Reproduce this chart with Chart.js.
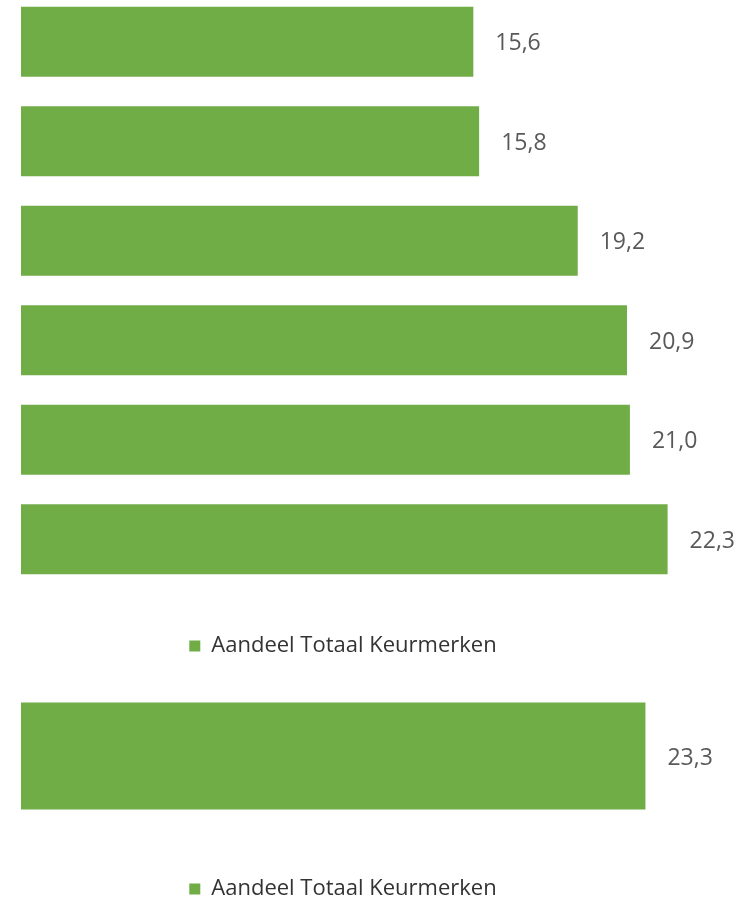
<!DOCTYPE html>
<html>
<head>
<meta charset="utf-8">
<script src="https://cdn.jsdelivr.net/npm/chart.js@4.4.1/dist/chart.umd.min.js"></script>
<style>
  html, body { margin:0; padding:0; background:#fff; overflow:hidden; width:743px; height:899px; }
  /* de grafieken lopen links buiten beeld door (categorie-as is weggesneden) */
  .grafiek { position:absolute; left:-57px; width:800px; }
  #blokBoven { top:-8px; height:675px; }
  #blokOnder { top:680px; height:230px; }
</style>
</head>
<body>
<div class="grafiek" id="blokBoven"><canvas id="grafiekBoven"></canvas></div>
<div class="grafiek" id="blokOnder"><canvas id="grafiekOnder"></canvas></div>
<script>
const REEKS_NAAM = 'Aandeel Totaal Keurmerken';
const GROEN = '#70ad47';

// bovenste grafiek: zes balken
const categorieenBoven = ['1', '2', '3', '4', '5', '6'];
const waardenBoven = [15.6, 15.8, 19.2, 20.9, 21.0, 22.3];

// onderste grafiek: totaal
const categorieenOnder = ['totaal'];
const waardenOnder = [23.3];

const FONT = 'Open Sans';

function formatNL(v) {
  return v.toFixed(1).replace('.', ',');
}

// tekent de waarde rechts naast elke balk
const waardeLabels = {
  id: 'waardeLabels',
  afterDatasetsDraw(chart) {
    const ctx = chart.ctx;
    const data = chart.data.datasets[0].data;
    ctx.save();
    ctx.font = '23px "' + FONT + '"';
    ctx.fillStyle = '#595959';
    ctx.textAlign = 'left';
    ctx.textBaseline = 'middle';
    chart.getDatasetMeta(0).data.forEach((balk, i) => {
      ctx.fillText(formatNL(data[i]), balk.x + 22, balk.y + 2);
    });
    ctx.restore();
  }
};

function maakGrafiek(canvasId, labels, waarden, xMin, xMax) {
  const ctx = document.getElementById(canvasId).getContext('2d');
  return new Chart(ctx, {
    type: 'bar',
    data: {
      labels: labels,
      datasets: [{
        label: REEKS_NAAM,
        data: waarden,
        backgroundColor: GROEN,
        borderWidth: 0,
        barPercentage: 0.704,
        categoryPercentage: 1
      }]
    },
    options: {
      indexAxis: 'y',
      responsive: true,
      maintainAspectRatio: false,
      animation: false,
      layout: { padding: 0 },
      scales: {
        x: { display: false, min: xMin, max: xMax },
        y: { display: false }
      },
      plugins: {
        tooltip: { enabled: false },
        legend: {
          position: 'bottom',
          labels: {
            boxWidth: 11,
            boxHeight: 11,
            padding: 46,
            color: '#333333',
            font: { family: FONT, size: 22 }
          }
        }
      }
    },
    plugins: [waardeLabels]
  });
}

maakGrafiek('grafiekBoven', categorieenBoven, waardenBoven, -2.69, 24.9);
maakGrafiek('grafiekOnder', categorieenOnder, waardenOnder, -2.91, 26.94);
</script>
</body>
</html>
